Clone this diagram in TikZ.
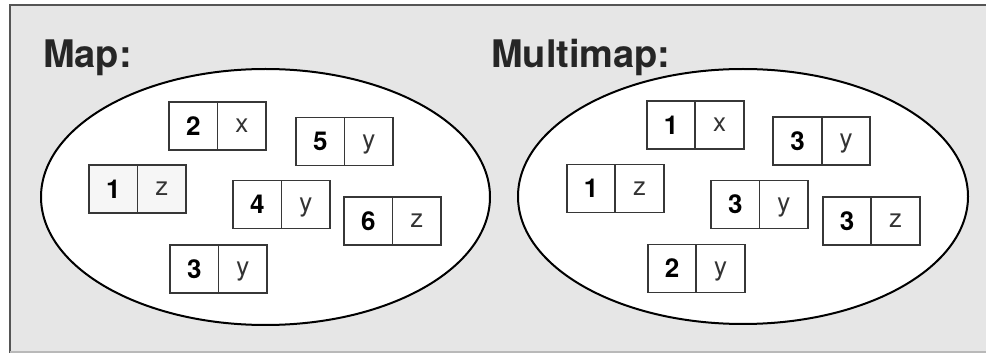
\documentclass[tikz,border=0pt]{standalone}
\usepackage{fontspec}
\setmainfont{TeX Gyre Heros}
\usepackage{tikz}
\usepackage{xcolor}
\usetikzlibrary{positioning, shapes.geometric}

\definecolor{panelgray}{RGB}{230,230,230}
\definecolor{framegray}{RGB}{85,85,85}
\definecolor{cellline}{RGB}{55,55,55}

\begin{document}
\begin{tikzpicture}[x=1pt, y=-1pt,
    keycell/.style={rectangle, draw=cellline, line width=1.8pt, fill=white,
      minimum width=48.5pt, minimum height=48pt, inner sep=0pt, outer sep=0pt,
      font=\fontsize{26}{26}\selectfont\bfseries, text height=18.3pt, text depth=0pt},
    valcell/.style={keycell, font=\fontsize{26}{26}\selectfont, text=black!80, text height=13.6pt},
    setshape/.style={ellipse, draw=black, line width=2pt, fill=white, inner sep=0pt},
    title/.style={anchor=base west, inner sep=0pt, font=\fontsize{38}{40}\selectfont\bfseries, text=black!85}]
    \useasboundingbox (0,0) rectangle (986,355);
    \fill[panelgray] (10,5) rectangle (986,352);
    \draw[framegray, line width=2.5pt] (986,5) -- (10,5) -- (10,353);
    \draw[gray!55, line width=1.5pt] (10,352) -- (986,352);

    % Map
    \node[title] (maplabel) at (43,68) {Map:};
    \node[setshape, minimum width=449pt, minimum height=256pt] (mapset) at (265.5,197) {};
    \node[keycell] (mk2) at (193.25,126) {2};
    \node[valcell, right=0pt of mk2] (mv2) {x};
    \node[keycell] (mk5) at (320.25,141.5) {5};
    \node[valcell, right=0pt of mk5] (mv5) {y};
    \node[keycell, fill=gray!7] (mk1) at (113.25,189) {1};
    \node[valcell, fill=gray!7, right=0pt of mk1] (mv1) {z};
    \node[keycell] (mk4) at (257.25,204.5) {4};
    \node[valcell, right=0pt of mk4] (mv4) {y};
    \node[keycell] (mk6) at (368.25,221) {6};
    \node[valcell, right=0pt of mk6] (mv6) {z};
    \node[keycell] (mk3) at (194.25,269) {3};
    \node[valcell, right=0pt of mk3] (mv3) {y};

    % Multimap
    \node[title] (multilabel) at (491,68) {Multimap:};
    \node[setshape, minimum width=450pt, minimum height=255pt] (multiset) at (743,196.5) {};
    \node[keycell] (nk1) at (671,125) {1};
    \node[valcell, right=0pt of nk1] (nv1) {x};
    \node[keycell] (nk2) at (797.5,141) {3};
    \node[valcell, right=0pt of nk2] (nv2) {y};
    \node[keycell] (nk3) at (591,188.5) {1};
    \node[valcell, right=0pt of nk3] (nv3) {z};
    \node[keycell] (nk4) at (735.25,204.5) {3};
    \node[valcell, right=0pt of nk4] (nv4) {y};
    \node[keycell] (nk5) at (847,221) {3};
    \node[valcell, right=0pt of nk5] (nv5) {z};
    \node[keycell] (nk6) at (672,268.5) {2};
    \node[valcell, right=0pt of nk6] (nv6) {y};
\end{tikzpicture}
\end{document}
